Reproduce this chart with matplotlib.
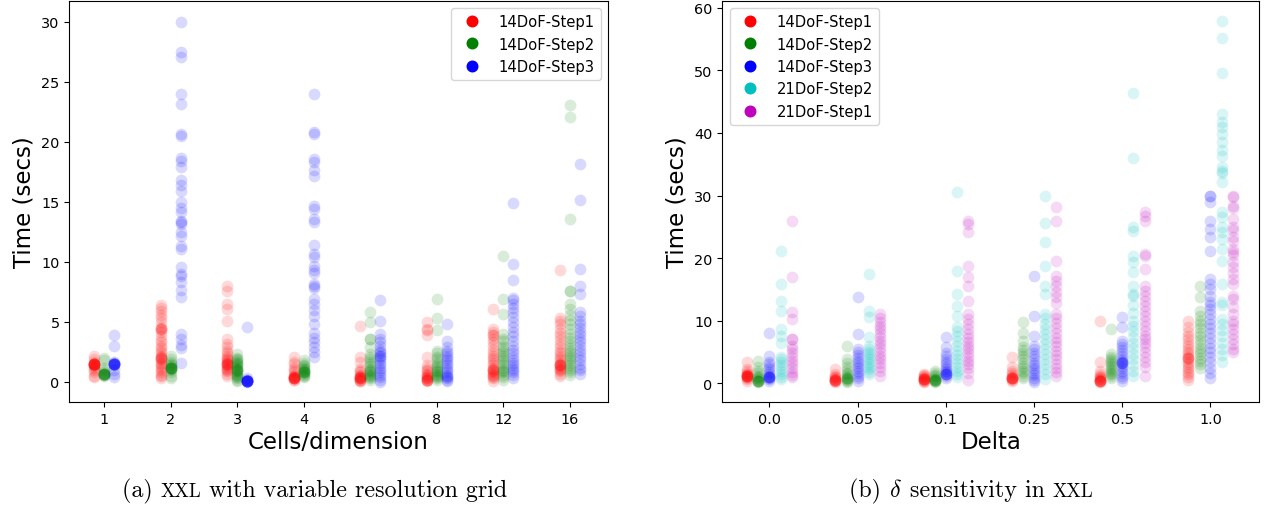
import numpy as np
import matplotlib
matplotlib.use("Agg")
import matplotlib.pyplot as plt
from matplotlib.lines import Line2D

plt.rcParams["mathtext.fontset"] = "cm"

# ---- left panel: variable resolution grid ----
grid_cats = ["1", "2", "3", "4", "6", "8", "12", "16"]
grid_names = ["14DoF-Step1", "14DoF-Step2", "14DoF-Step3"]

grid_s1 = [
    [2.2, 1.9, 1.7, 1.5, 1.5, 1.5, 1.5, 1.5, 1.5, 1.5, 1.5, 1.4, 1.4, 1.3, 1.2, 1.0,
     0.8, 0.5, 0.4],
    [6.4, 6.2, 5.9, 5.6, 5.3, 5.0, 4.6, 4.4, 4.4, 4.4, 4.2, 3.8, 3.5, 3.3, 3.0, 2.8, 2.6,
     2.4, 2.2, 2.1, 2.0, 2.0, 1.9, 1.8, 1.6, 1.5, 1.3, 1.2, 1.0, 0.8, 0.6, 0.5, 0.3],
    [8.0, 7.6, 6.5, 6.1, 5.1, 3.6, 3.2, 2.9, 2.6, 2.4, 2.2, 2.0, 1.9, 1.8, 1.7, 1.6,
     1.5, 1.5, 1.5, 1.4, 1.3, 1.2, 1.1, 1.0, 0.9, 0.7, 0.5],
    [2.1, 1.7, 1.5, 1.2, 1.0, 0.8, 0.6, 0.5, 0.4, 0.4, 0.3, 0.3, 0.3, 0.3, 0.3, 0.3,
     0.2, 0.2],
    [4.7, 2.1, 1.7, 1.1, 0.9, 0.8, 0.6, 0.5, 0.4, 0.4, 0.3, 0.3, 0.3, 0.3, 0.2, 0.2,
     0.1, 0.1],
    [5.0, 4.4, 4.3, 3.9, 2.1, 1.4, 1.2, 1.0, 0.9, 0.7, 0.6, 0.5, 0.4, 0.3, 0.3, 0.2,
     0.2, 0.2, 0.2, 0.1],
    [6.1, 4.4, 4.2, 3.9, 3.9, 3.6, 3.3, 3.0, 2.7, 2.4, 2.2, 2.0, 1.8, 1.6, 1.4, 1.2,
     1.1, 1.0, 1.0, 0.9, 0.8, 0.7, 0.6, 0.5, 0.4, 0.3, 0.1],
    [9.3, 5.3, 5.1, 4.8, 4.4, 4.1, 3.8, 3.5, 3.2, 2.9, 2.6, 2.4, 2.2, 2.0, 1.8, 1.6,
     1.5, 1.4, 1.4, 1.4, 1.3, 1.2, 1.1, 1.0, 0.9, 0.7, 0.5],
]
grid_s2 = [
    [2.0, 1.8, 1.2, 1.0, 0.8, 0.7, 0.7, 0.7, 0.7, 0.7, 0.7, 0.6, 0.6, 0.5],
    [2.2, 1.9, 1.7, 1.5, 1.4, 1.3, 1.2, 1.2, 1.2, 1.2, 1.2, 1.2, 1.1, 1.0, 0.8, 0.5,
     0.3],
    [2.3, 2.0, 1.9, 1.8, 1.7, 1.6, 1.5, 1.4, 1.3, 1.2, 1.1, 1.0, 1.0, 1.0, 0.9, 0.8,
     0.7, 0.6, 0.5, 0.4, 0.3, 0.2, 0.1],
    [1.8, 1.6, 1.4, 1.3, 1.2, 1.1, 1.0, 0.9, 0.8, 0.8, 0.8, 0.8, 0.7, 0.6, 0.5, 0.4],
    [5.8, 5.0, 3.6, 3.6, 2.9, 2.3, 2.1, 1.9, 1.7, 1.5, 1.3, 1.1, 1.0, 0.9, 0.8, 0.7,
     0.6, 0.5, 0.4, 0.3, 0.2],
    [6.9, 5.3, 4.3, 2.6, 2.4, 2.1, 1.9, 1.7, 1.5, 1.3, 1.2, 1.0, 0.9, 0.8, 0.7, 0.6,
     0.5, 0.4, 0.3, 0.2],
    [10.5, 6.9, 5.7, 4.0, 3.6, 3.4, 3.0, 2.8, 2.6, 2.4, 2.2, 2.0, 1.8, 1.6, 1.4, 1.2,
     1.0, 0.9, 0.8, 0.6, 0.4, 0.2],
    [23.1, 22.1, 13.6, 7.6, 7.6, 6.5, 6.1, 5.6, 5.2, 4.8, 4.4, 4.0, 3.7, 3.4, 3.1, 2.8,
     2.6, 2.4, 2.2, 2.0, 1.8, 1.6, 1.4, 1.2, 1.0, 0.8, 0.6],
]
grid_s3 = [
    [3.9, 3.0, 1.7, 1.6, 1.5, 1.5, 1.5, 1.5, 1.5, 1.5, 1.5, 1.4, 1.0, 0.7, 0.4],
    [30.0, 27.5, 27.1, 24.0, 23.2, 20.7, 20.5, 18.7, 18.4, 17.9, 16.8, 16.4, 15.9, 15.0,
     14.5, 14.2, 13.4, 13.3, 13.2, 12.5, 12.2, 11.3, 11.1, 9.6, 9.0, 8.8, 8.3, 7.7, 7.1,
     4.0, 3.6, 3.1, 2.8, 1.6],
    [4.6, 0.3, 0.2, 0.2, 0.1, 0.1, 0.1, 0.1, 0.1, 0.1, 0.1, 0.1, 0.1, 0.0],
    [24.0, 20.8, 20.7, 18.6, 18.3, 17.7, 17.2, 14.7, 14.4, 13.6, 13.3, 11.4, 10.7, 10.4,
     9.7, 9.3, 9.1, 8.2, 8.0, 7.8, 6.9, 6.5, 6.0, 5.5, 4.8, 4.1, 3.7, 3.3, 2.9, 2.5, 2.1],
    [6.8, 5.1, 4.0, 3.6, 3.3, 3.0, 2.7, 2.5, 2.4, 2.2, 2.2, 2.0, 1.8, 1.6, 1.4, 1.2,
     1.0, 0.8, 0.6, 0.4, 0.2, 0.0],
    [4.8, 3.4, 2.9, 2.6, 2.4, 2.2, 2.0, 1.8, 1.6, 1.4, 1.2, 1.0, 0.8, 0.6, 0.5, 0.4,
     0.3, 0.2, 0.1],
    [14.9, 9.8, 8.5, 7.0, 6.8, 6.5, 6.2, 5.8, 5.4, 5.0, 4.6, 4.2, 3.8, 3.4, 3.0, 2.7,
     2.4, 2.1, 1.8, 1.6, 1.4, 1.2, 1.0, 0.8, 0.6, 0.3],
    [18.2, 15.2, 9.4, 8.0, 7.3, 5.8, 5.5, 5.1, 4.8, 4.5, 4.2, 3.9, 3.6, 3.3, 3.0, 2.7,
     2.4, 2.1, 1.8, 1.5, 1.2, 1.0, 0.7],
]

# ---- right panel: delta sensitivity ----
delta_cats = ["0.0", "0.05", "0.1", "0.25", "0.5", "1.0"]
delta_names = ["14DoF-Step1", "14DoF-Step2", "14DoF-Step3", "21DoF-Step2", "21DoF-Step1"]

d14_s1 = [
    [3.4, 2.3, 2.0, 1.7, 1.5, 1.3, 1.2, 1.2, 1.2, 1.2, 1.2, 1.1, 1.0, 0.8, 0.6, 0.4],
    [2.3, 1.5, 1.2, 1.0, 0.8, 0.6, 0.5, 0.5, 0.5, 0.5, 0.4, 0.3, 0.2],
    [1.5, 1.3, 1.1, 1.0, 0.8, 0.7, 0.6, 0.6, 0.6, 0.6, 0.5, 0.4, 0.3, 0.2],
    [4.2, 2.6, 2.0, 1.6, 1.3, 1.0, 0.9, 0.8, 0.8, 0.8, 0.8, 0.6, 0.5, 0.3],
    [10.0, 3.4, 2.0, 1.4, 1.2, 1.0, 0.8, 0.6, 0.5, 0.4, 0.4, 0.4, 0.4, 0.3, 0.2],
    [10.0, 9.0, 8.2, 7.5, 7.0, 6.5, 6.0, 5.5, 5.0, 4.6, 4.2, 4.0, 4.0, 3.8, 3.4, 3.0,
     2.6, 2.2, 1.8, 1.4, 1.0, 0.5],
]
d14_s2 = [
    [3.6, 2.6, 2.0, 1.6, 1.2, 1.0, 0.8, 0.6, 0.4, 0.4, 0.4, 0.4, 0.3, 0.2],
    [6.0, 3.9, 3.3, 2.6, 2.1, 1.7, 1.4, 1.1, 0.9, 0.8, 0.8, 0.7, 0.5, 0.3, 0.2],
    [2.0, 1.6, 1.3, 1.1, 0.9, 0.7, 0.5, 0.5, 0.5, 0.5, 0.4, 0.3, 0.2],
    [9.8, 8.1, 6.8, 5.8, 5.3, 4.8, 4.3, 3.8, 3.3, 2.8, 2.4, 2.0, 1.6, 1.2, 0.8],
    [8.7, 4.6, 4.2, 3.8, 3.5, 3.2, 2.9, 2.6, 2.3, 2.0, 1.7, 1.4, 1.1, 0.8],
    [15.6, 13.8, 11.6, 10.8, 10.0, 9.4, 8.8, 8.1, 7.5, 6.9, 6.3, 5.7, 5.1, 4.6, 4.0,
     3.5, 3.0, 2.5],
]
d14_s3 = [
    [8.1, 4.4, 3.4, 3.0, 2.6, 2.2, 1.8, 1.5, 1.2, 1.0, 1.0, 1.0, 1.0, 0.8, 0.6, 0.4],
    [13.8, 7.9, 5.5, 5.0, 4.5, 4.0, 3.6, 3.2, 2.8, 2.4, 2.0, 1.6, 1.2, 0.8, 0.4],
    [7.4, 5.8, 4.8, 4.3, 3.8, 3.4, 3.0, 2.6, 2.2, 2.0, 1.8, 1.5, 1.5, 1.5, 1.5, 1.2,
     0.9],
    [17.2, 10.8, 7.6, 6.0, 5.4, 4.8, 4.3, 3.8, 3.3, 2.9, 2.5, 2.1, 1.7, 1.3, 0.9, 0.5,
     0.2],
    [10.6, 9.0, 6.8, 6.3, 5.8, 5.3, 4.8, 4.3, 3.9, 3.6, 3.4, 3.2, 3.2, 3.2, 2.8, 2.4,
     2.0, 1.6, 1.2, 0.8, 0.4],
    [30.0, 30.0, 28.9, 26.0, 24.7, 23.4, 21.2, 16.7, 15.9, 15.0, 14.0, 13.0, 12.5, 11.8,
     11.0, 10.2, 9.5, 8.8, 8.0, 7.2, 6.5, 5.7, 5.0, 4.2, 3.4, 2.5, 1.6, 0.9],
]
d21_s2 = [
    [21.2, 15.9, 13.2, 11.6, 8.7, 7.6, 6.5, 4.2, 3.9, 3.4, 2.9, 2.4, 1.9, 1.4, 1.0, 0.7],
    [17.5, 11.6, 10.6, 7.4, 6.0, 5.4, 5.0, 4.6, 4.2, 3.8, 3.4, 3.0, 2.6, 2.2, 1.8, 1.4],
    [30.5, 18.0, 14.3, 12.4, 10.8, 9.0, 8.3, 7.6, 6.8, 6.0, 5.2, 4.5, 3.8, 3.2, 2.6,
     2.0, 1.5, 1.0],
    [30.0, 25.6, 22.5, 18.8, 15.6, 14.3, 11.0, 10.5, 9.5, 8.6, 7.8, 7.0, 6.2, 5.4, 4.6,
     3.8, 3.0, 2.2, 1.4, 0.6],
    [46.4, 36.0, 24.9, 24.4, 20.4, 19.3, 17.8, 15.6, 14.3, 13.9, 12.5, 11.3, 10.0, 9.2,
     8.3, 7.4, 6.5, 5.6, 4.7, 3.8, 2.9, 2.0, 1.2],
    [57.9, 55.2, 49.6, 43.1, 41.7, 41.0, 39.8, 38.5, 37.3, 36.4, 34.5, 34.0, 33.6, 32.1,
     27.3, 26.5, 25.0, 24.1, 23.0, 21.5, 19.6, 15.9, 13.0, 12.5, 10.3, 9.5, 8.5, 7.5,
     6.5, 5.5, 4.5, 3.4],
]
d21_s1 = [
    [26.0, 17.0, 11.4, 10.3, 7.1, 7.0, 6.0, 5.4, 4.8, 4.2, 3.6, 3.0, 2.4, 1.8, 1.3, 1.0],
    [11.1, 10.4, 9.8, 9.2, 8.6, 8.0, 7.4, 6.8, 6.2, 5.6, 5.0, 4.4, 3.8, 3.2, 2.6, 2.0,
     1.2],
    [26.0, 25.5, 24.1, 18.8, 17.0, 15.6, 13.2, 11.0, 10.2, 9.4, 8.6, 7.8, 7.2, 6.6, 6.0,
     5.4, 4.8, 4.2, 3.6, 3.0, 2.4, 1.6, 0.5],
    [28.1, 26.0, 19.6, 17.2, 16.3, 15.5, 14.6, 13.8, 12.9, 11.0, 10.4, 9.6, 8.8, 8.0,
     7.3, 6.6, 5.9, 5.2, 4.5, 3.8, 3.1, 2.4, 1.8, 1.2],
    [27.3, 26.7, 26.0, 20.7, 20.3, 18.3, 15.6, 14.8, 14.0, 13.2, 12.4, 11.6, 10.8, 10.0,
     9.2, 8.4, 7.6, 7.0, 6.5, 5.8, 5.0, 4.2, 3.4, 2.6, 1.2],
    [30.0, 29.8, 28.4, 28.0, 26.3, 24.9, 24.5, 23.4, 22.8, 21.5, 20.9, 20.5, 19.3, 18.5,
     17.6, 16.7, 15.8, 14.0, 13.5, 12.2, 11.0, 10.0, 9.5, 8.7, 7.9, 7.0, 6.2, 5.5, 5.0],
]


def strip(ax, cats, series, colors, offsets):
    for vals, col, off in zip(series, colors, offsets):
        for i, pts in enumerate(vals):
            ax.scatter(np.full(len(pts), i + off), pts, s=72, color=col,
                       alpha=0.15, linewidths=0)
    ax.set_xticks(range(len(cats)))
    ax.set_xticklabels(cats)


fig = plt.figure(figsize=(12.65, 5.1), dpi=100)
ax1 = fig.add_axes([69.3 / 1265, 107 / 510, 538.7 / 1265, 401 / 510])
ax2 = fig.add_axes([722.3 / 1265, 107 / 510, 537 / 1265, 401 / 510])

strip(ax1, grid_cats, [grid_s1, grid_s2, grid_s3], ["r", "g", "b"], [-0.15, 0, 0.15])
strip(ax2, delta_cats, [d14_s1, d14_s2, d14_s3, d21_s2, d21_s1],
      ["r", "g", "b", "c", "m"], [-0.25, -0.123, 0, 0.128, 0.255])

ax1.set_xlim(-0.527, 7.578)
ax1.set_ylim(-1.67, 31.75)
ax2.set_xlim(-0.533, 5.554)
ax2.set_ylim(-3.0, 61.1)

for ax, xl in [(ax1, "Cells/dimension"), (ax2, "Delta")]:
    ax.set_xlabel(xl, fontsize=16.5, labelpad=3)
    ax.set_ylabel("Time (secs)", fontsize=16.5, labelpad=4)
    ax.tick_params(labelsize=10.4)

h1 = [Line2D([], [], ls="", marker="o", ms=7.6, color=c) for c in ["r", "g", "b"]]
ax1.legend(h1, grid_names, loc="upper right", fontsize=10.6)
h2 = [Line2D([], [], ls="", marker="o", ms=7.6, color=c) for c in ["r", "g", "b", "c", "m"]]
ax2.legend(h2, delta_names, loc="upper left", fontsize=10.6)

# captions (Computer Modern, small-caps XXL)
cap_fs = 17.3
W, H = fig.get_size_inches() * fig.dpi


def caption(x_px, pieces):
    fig.canvas.draw()
    r = fig.canvas.get_renderer()
    x = x_px
    for txt, scale in pieces:
        t = fig.text(x / W, 13 / H, txt, family="cmr10", fontsize=cap_fs * scale,
                     ha="left", va="baseline")
        x = t.get_window_extent(r).x1


caption(121.7, [("(a) ", 1.0), ("XXL", 0.8), (" with variable resolution grid", 1.0)])
caption(849, [("(b) ", 1.0), (r"$\delta$", 1.0), (" sensitivity in ", 1.0), ("XXL", 0.8)])

fig.savefig("out.png", dpi=100)
